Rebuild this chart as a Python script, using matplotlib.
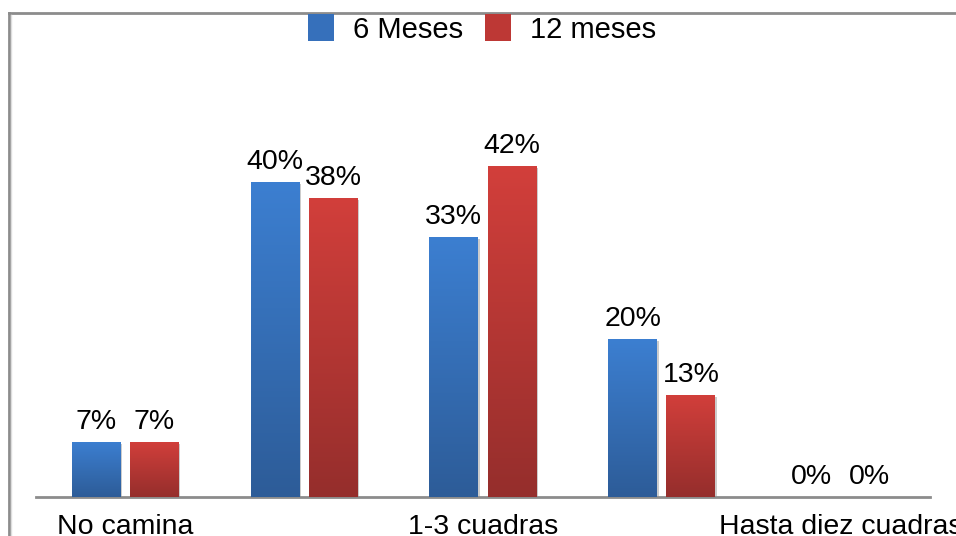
import matplotlib
matplotlib.use("Agg")
import matplotlib.pyplot as plt
import numpy as np
from matplotlib.colors import LinearSegmentedColormap
from matplotlib.patches import Rectangle
from matplotlib.lines import Line2D
from matplotlib import patheffects as pe

plt.rcParams['font.family'] = ['Liberation Sans', 'DejaVu Sans']

# distancia caminada, porcentaje de pacientes
categories = ["No camina", "", "1-3 cuadras", "", "Hasta diez cuadras"]
series_names = ["6 Meses", "12 meses"]
seis_meses = [7, 40, 33, 20, 0]
doce_meses = [7, 38, 42, 13, 0]

blue_top, blue_bot = "#3c7fd1", "#2d5c98"
red_top, red_bot = "#d23f3b", "#952e2c"

W, H = 956, 536
fig = plt.figure(figsize=(W / 100, H / 100), dpi=100)
ax = fig.add_axes([36 / W, (H - 497) / H, 894 / W, 457 / H])

x = np.arange(len(categories))
width = 0.274
offset = 0.163


def gradient_bars(xpos, vals, top, bot):
    cmap = LinearSegmentedColormap.from_list("g", [bot, top])
    bars = ax.bar(xpos, vals, width, color=top, zorder=2)
    grad = np.linspace(0, 1, 256).reshape(-1, 1)
    for b in bars:
        h = b.get_height()
        if h <= 0:
            continue
        b.set_path_effects([pe.SimplePatchShadow(offset=(1, -1.5), alpha=0.2, shadow_rgbFace="k"),
                            pe.Normal()])
        im = ax.imshow(grad, cmap=cmap, aspect="auto", origin="lower",
                       extent=[b.get_x(), b.get_x() + b.get_width(), 0, h], zorder=3)
        im.set_clip_path(b)
    return bars


b1 = gradient_bars(x - offset, seis_meses, blue_top, blue_bot)
b2 = gradient_bars(x + offset, doce_meses, red_top, red_bot)

for bars, vals in ((b1, seis_meses), (b2, doce_meses)):
    for b, v in zip(bars, vals):
        ax.annotate(f"{v}%", (b.get_x() + b.get_width() / 2, v),
                    xytext=(0, 5), textcoords="offset points",
                    ha="center", va="bottom", fontsize=20.5, color="black")

ax.set_xlim(-0.5, len(categories) - 0.5)
ax.set_ylim(0, 58)
ax.set_xticks(x, labels=categories, fontsize=20.5)
ax.tick_params(axis="x", length=0, pad=12)
ax.set_yticks([])
for s in ("left", "right", "top"):
    ax.spines[s].set_visible(False)
ax.spines["bottom"].set_color("#8c8c8c")
ax.spines["bottom"].set_linewidth(2)

# marco del grafico
fig.add_artist(Line2D([9 / W, 9 / W], [0, 1 - 13 / H], color="#8c8c8c", lw=2))
fig.add_artist(Line2D([9 / W, 1], [1 - 13 / H, 1 - 13 / H], color="#8c8c8c", lw=2))
fig.add_artist(Line2D([11 / W, 11 / W], [0, 1 - 15 / H], color="#dddddd", lw=1))

handles = [Rectangle((0, 0), 1, 1, facecolor="#3670bb"),
           Rectangle((0, 0), 1, 1, facecolor="#bd3835")]
fig.legend(handles, series_names, loc="center", bbox_to_anchor=(482 / W, 1 - 29 / H),
           ncol=2, frameon=False, fontsize=21, handlelength=0.9, handleheight=1.05,
           handletextpad=0.65, columnspacing=0.75, borderaxespad=0)

fig.savefig("out.png", dpi=100)
